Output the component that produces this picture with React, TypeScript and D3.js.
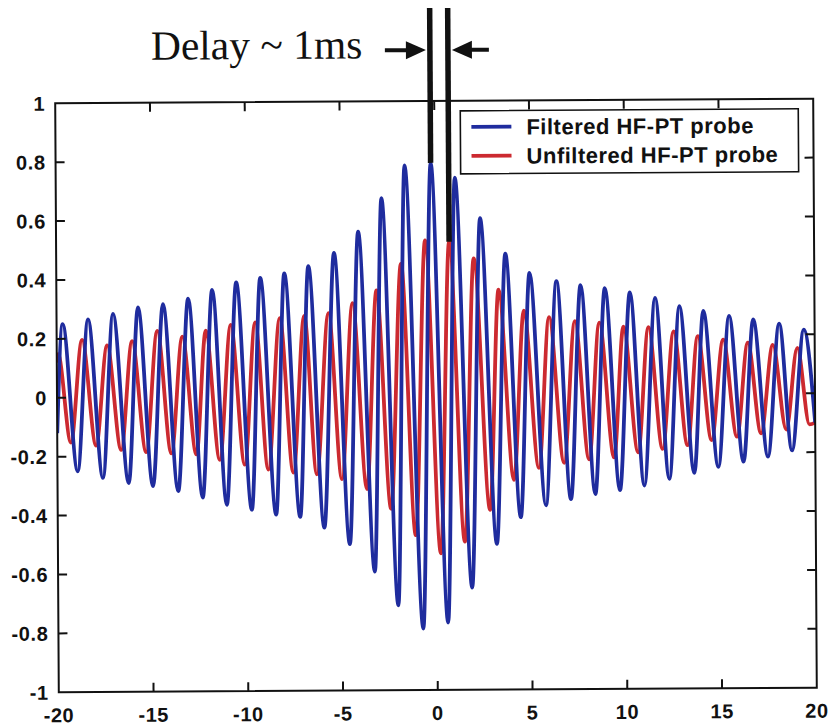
import React from "react";
import * as d3 from "d3";

// ---- data ----
const xTicks = [-20, -15, -10, -5, 0, 5, 10, 15, 20];
const yTicks = [-1, -0.8, -0.6, -0.4, -0.2, 0, 0.2, 0.4, 0.6, 0.8, 1];
const yTickLabels = ["-1", "-0.8", "-0.6", "-0.4", "-0.2", "0", "0.2", "0.4", "0.6", "0.8", "1"];
const xTickLabels = ["-20", "-15", "-10", "-5", "0", "5", "10", "15", "20"];

const seriesNames = ["Filtered HF-PT probe", "Unfiltered HF-PT probe"];

// Filtered (blue): ends, peaks and troughs
const blueEnds = [[-20, -0.12], [20, -0.1]];
const bluePeakLag = [-19.68, -18.34, -17.02, -15.7, -14.38, -13.05, -11.78, -10.51, -9.24, -7.97, -6.7, -5.34, -4.06, -2.82, -1.59, -0.21, 1.06, 2.38, 3.7, 4.97, 6.39, 7.66, 8.94, 10.26, 11.59, 12.87, 14.13, 15.49, 16.76, 18.13, 19.43];
const bluePeakVal = [0.25, 0.266, 0.284, 0.305, 0.316, 0.334, 0.363, 0.388, 0.403, 0.418, 0.442, 0.486, 0.558, 0.671, 0.782, 0.79, 0.739, 0.601, 0.48, 0.414, 0.386, 0.372, 0.361, 0.346, 0.327, 0.298, 0.282, 0.264, 0.252, 0.237, 0.216];
const blueTroughLag = [-18.93, -17.6, -16.24, -14.96, -13.63, -12.34, -11.07, -9.75, -8.47, -7.2, -5.93, -4.59, -3.28, -2.05, -0.74, 0.57, 1.85, 3.17, 4.44, 5.77, 7.09, 8.38, 9.68, 10.97, 12.29, 13.61, 14.88, 16.21, 17.5, 18.77];
const blueTroughVal = [-0.25, -0.273, -0.291, -0.302, -0.319, -0.342, -0.367, -0.384, -0.401, -0.409, -0.446, -0.503, -0.597, -0.712, -0.791, -0.771, -0.653, -0.505, -0.415, -0.375, -0.355, -0.338, -0.325, -0.31, -0.288, -0.268, -0.248, -0.231, -0.214, -0.194];

// Unfiltered (red): ends, peaks and troughs
const redEnds = [[-20, 0.12], [20, -0.1]];
const redPeakLag = [-19.93, -18.66, -17.34, -16.02, -14.69, -13.37, -12.13, -10.81, -9.52, -8.22, -6.93, -5.65, -4.38, -3.11, -1.81, -0.53, 0.74, 2.03, 3.33, 4.66, 5.99, 7.35, 8.64, 9.91, 11.23, 12.56, 13.83, 15.17, 16.47, 17.79, 19.08];
const redPeakVal = [0.148, 0.196, 0.177, 0.191, 0.225, 0.205, 0.225, 0.244, 0.252, 0.266, 0.273, 0.282, 0.315, 0.358, 0.448, 0.527, 0.522, 0.465, 0.358, 0.286, 0.264, 0.25, 0.244, 0.23, 0.228, 0.213, 0.196, 0.184, 0.173, 0.165, 0.154];
const redTroughLag = [-19.28, -17.95, -16.63, -15.31, -13.98, -12.66, -11.43, -10.11, -8.87, -7.55, -6.31, -4.99, -3.67, -2.4, -1.11, 0.21, 1.48, 2.82, 4.09, 5.41, 6.74, 8.06, 9.38, 10.65, 11.94, 13.26, 14.53, 15.87, 17.14, 18.47, 19.7];
const redTroughVal = [-0.152, -0.163, -0.178, -0.186, -0.191, -0.195, -0.214, -0.231, -0.248, -0.259, -0.265, -0.282, -0.316, -0.384, -0.474, -0.536, -0.497, -0.389, -0.288, -0.248, -0.231, -0.22, -0.214, -0.197, -0.186, -0.174, -0.157, -0.146, -0.135, -0.123, -0.106];

const annotationText = "Delay ~ 1ms";
const markedBluePeak = 15; // index into bluePeakLag
const markedRedPeak = 16; // index into redPeakLag

// ---- layout ----
const W = 828, H = 727;
const plot = { left: 57, right: 815, top: 101, bottom: 690 };
const BLUE = "#1f2c9e";
const RED = "#cc2a30";

function buildSeries(ends: number[][], pl: number[], pv: number[], tl: number[], tv: number[]) {
  const pts: [number, number][] = [];
  ends.forEach((e) => pts.push([e[0], e[1]]));
  pl.forEach((x, i) => pts.push([x, pv[i]]));
  tl.forEach((x, i) => pts.push([x, tv[i]]));
  pts.sort((a, b) => a[0] - b[0]);
  return pts;
}

export default function App() {
  const x = d3.scaleLinear().domain([-20, 20]).range([plot.left, plot.right]);
  const y = d3.scaleLinear().domain([-1, 1]).range([plot.bottom, plot.top]);

  const lineGen = d3
    .line<[number, number]>()
    .x((d) => x(d[0]))
    .y((d) => y(d[1]))
    .curve(d3.curveMonotoneX);

  const blue = buildSeries(blueEnds, bluePeakLag, bluePeakVal, blueTroughLag, blueTroughVal);
  const red = buildSeries(redEnds, redPeakLag, redPeakVal, redTroughLag, redTroughVal);

  const tickLen = 9;
  const tickFont = { fontFamily: "'Liberation Sans', Arial, sans-serif", fontWeight: 700, fontSize: 20, letterSpacing: 0.6 } as const;
  const legendFont = { fontFamily: "'Liberation Sans', Arial, sans-serif", fontWeight: 700, fontSize: 22, letterSpacing: 0.5 } as const;

  const lx1 = x(bluePeakLag[markedBluePeak]);
  const ly1 = y(bluePeakVal[markedBluePeak]);
  const lx2 = x(redPeakLag[markedRedPeak]);
  const ly2 = y(redPeakVal[markedRedPeak]);
  const arrowY = 50;

  return (
    <svg width={W} height={H} style={{ position: "absolute", left: 0, top: 0, background: "#fff" }}>
      <rect x={0} y={0} width={W} height={H} fill="#fff" />
      <g transform="rotate(-0.35, 436, 396)">
        <defs>
          <clipPath id="plotclip">
            <rect x={plot.left} y={plot.top} width={plot.right - plot.left} height={plot.bottom - plot.top} />
          </clipPath>
        </defs>

        {/* series */}
        <g clipPath="url(#plotclip)" fill="none" strokeLinejoin="round">
          <path d={lineGen(red) || ""} stroke={RED} strokeWidth={3.8} />
          <path d={lineGen(blue) || ""} stroke={BLUE} strokeWidth={3.8} />
        </g>

        {/* frame */}
        <rect x={plot.left} y={plot.top} width={plot.right - plot.left} height={plot.bottom - plot.top} fill="none" stroke="#111" strokeWidth={2} />

        {/* x ticks */}
        {xTicks.map((t, i) => (
          <g key={"x" + t}>
            {i > 0 && i < xTicks.length - 1 && (
              <>
                <line x1={x(t)} x2={x(t)} y1={plot.bottom} y2={plot.bottom - tickLen} stroke="#111" strokeWidth={2} />
                <line x1={x(t)} x2={x(t)} y1={plot.top} y2={plot.top + tickLen} stroke="#111" strokeWidth={2} />
              </>
            )}
            <text x={x(t)} y={plot.bottom + 30} textAnchor="middle" {...tickFont} fill="#111">
              {xTickLabels[i]}
            </text>
          </g>
        ))}

        {/* y ticks */}
        {yTicks.map((t, i) => (
          <g key={"y" + t}>
            {i > 0 && i < yTicks.length - 1 && (
              <>
                <line x1={plot.left} x2={plot.left + tickLen} y1={y(t)} y2={y(t)} stroke="#111" strokeWidth={2} />
                <line x1={plot.right} x2={plot.right - tickLen} y1={y(t)} y2={y(t)} stroke="#111" strokeWidth={2} />
              </>
            )}
            <text x={plot.left - 10} y={y(t)} dy="0.36em" textAnchor="end" {...tickFont} fill="#111">
              {yTickLabels[i]}
            </text>
          </g>
        ))}

        {/* legend */}
        <g>
          <rect x={462} y={111} width={338} height={63} fill="#fff" stroke="#111" strokeWidth={1.6} />
          <line x1={473} x2={513} y1={127} y2={127} stroke={BLUE} strokeWidth={3.8} />
          <line x1={473} x2={513} y1={156} y2={156} stroke={RED} strokeWidth={3.8} />
          <text x={528} y={135} {...legendFont} fill="#111">
            {seriesNames[0]}
          </text>
          <text x={528} y={164} {...legendFont} fill="#111">
            {seriesNames[1]}
          </text>
        </g>

        {/* annotation */}
        <g>
          <line x1={lx1} x2={lx1} y1={8} y2={ly1} stroke="#111" strokeWidth={5.5} />
          <line x1={lx2} x2={lx2} y1={8} y2={ly2} stroke="#111" strokeWidth={5.5} />
          <line x1={387} x2={lx1 - 20} y1={arrowY} y2={arrowY} stroke="#111" strokeWidth={4} />
          <polygon points={`${lx1 - 4},${arrowY} ${lx1 - 24},${arrowY - 9} ${lx1 - 24},${arrowY + 9}`} fill="#111" />
          <line x1={lx2 + 20} x2={491} y1={arrowY} y2={arrowY} stroke="#111" strokeWidth={4} />
          <polygon points={`${lx2 + 4},${arrowY} ${lx2 + 24},${arrowY - 9} ${lx2 + 24},${arrowY + 9}`} fill="#111" />
          <text x={153} y={58} fontFamily="'Liberation Serif', 'Times New Roman', serif" fontSize={41.5} fill="#111">
            {annotationText}
          </text>
        </g>
      </g>
    </svg>
  );
}
